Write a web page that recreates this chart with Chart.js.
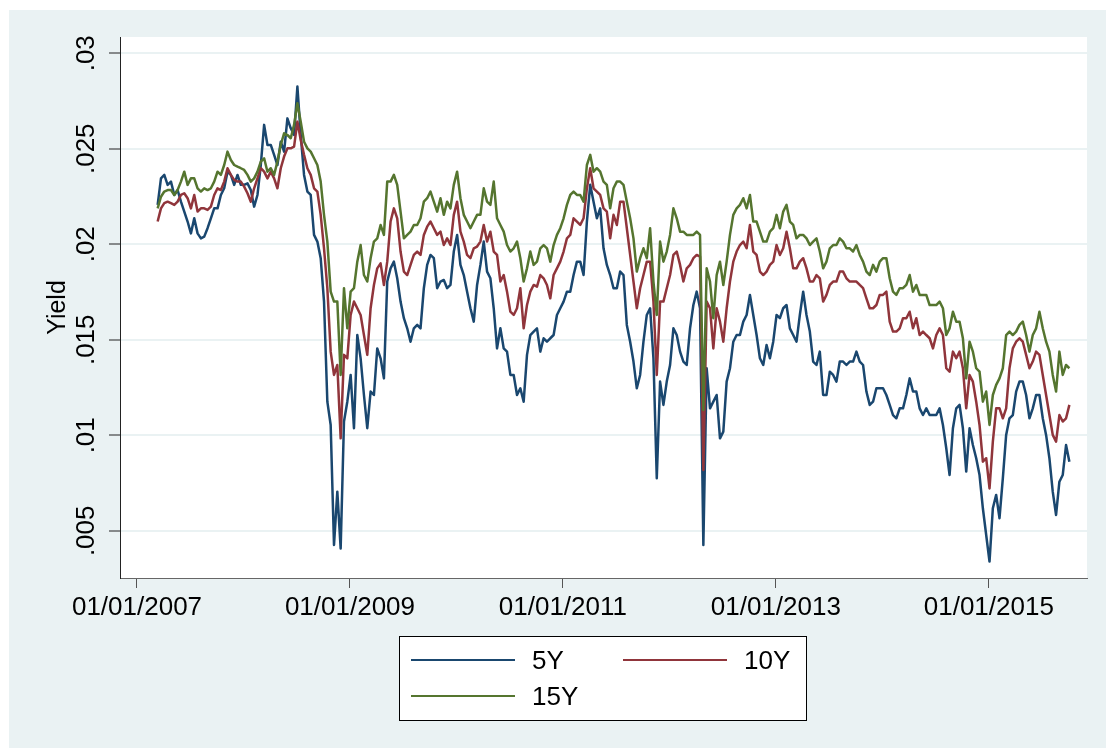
<!DOCTYPE html>
<html>
<head>
<meta charset="utf-8">
<title>Yield</title>
<script src="https://cdn.jsdelivr.net/npm/chart.js@4.4.1/dist/chart.umd.min.js"></script>
<style>
  html, body { margin: 0; padding: 0; background: #fff; }
  #wrap { width: 1106px; height: 750px; }
</style>
</head>
<body>
<div id="wrap"><canvas id="yieldChart" width="1106" height="750"></canvas></div>
<script>
// x in decimal years, one sample every 1/32 year
const firstSample = 2007.194;
const sampleStep = 1 / 32;

const y5 = [
  0.02206,0.02345,0.02363,0.02311,0.02328,0.02258,0.02284,0.02223,0.02171,0.02119,0.02057,0.02136,0.02057,0.02031,0.02040,0.02084,0.02136,0.02188,0.02188,0.02258,0.02293,0.02380,0.02363,0.02311,0.02363,0.02311,0.02311,0.02319,0.02284,0.02197,0.02258,0.02415,0.02625,0.02520,
  0.02520,0.02468,0.02415,0.02537,0.02485,0.02659,0.02607,0.02572,0.02826,0.02572,0.02363,0.02276,0.02258,0.02049,0.02014,0.01927,0.01700,0.01176,0.01054,0.00426,0.00705,0.00408,0.01072,0.01176,0.01316,0.01037,0.01525,0.01403,0.01211,0.01037,0.01229,0.01211,0.01455,0.01403,0.01298,0.01805,
  0.01874,0.01909,0.01822,0.01700,0.01613,0.01560,0.01490,0.01560,0.01578,0.01560,0.01770,0.01892,0.01944,0.01927,0.01770,0.01805,0.01813,0.01770,0.01787,0.01962,0.02049,0.01892,0.01839,0.01752,0.01665,0.01595,0.01787,0.01892,0.02014,0.01857,0.01822,0.01665,0.01455,0.01560,0.01455,0.01438,
  0.01316,0.01316,0.01211,0.01246,0.01176,0.01421,0.01525,0.01543,0.01560,0.01438,0.01508,0.01490,0.01508,0.01525,0.01630,0.01665,0.01700,0.01752,0.01752,0.01839,0.01909,0.01909,0.01839,0.02119,0.02311,0.02223,0.02136,0.02188,0.01979,0.01892,0.01839,0.01770,0.01770,0.01857,0.01839,0.01578,
  0.01490,0.01386,0.01246,0.01316,0.01490,0.01630,0.01665,0.01403,0.00775,0.01281,0.01159,0.01281,0.01368,0.01560,0.01525,0.01438,0.01386,0.01368,0.01560,0.01682,0.01752,0.01665,0.00426,0.01351,0.01141,0.01176,0.01211,0.00984,0.01019,0.01281,0.01351,0.01490,0.01525,0.01525,0.01595,0.01630,
  0.01735,0.01630,0.01525,0.01403,0.01368,0.01473,0.01403,0.01490,0.01630,0.01613,0.01665,0.01682,0.01560,0.01525,0.01490,0.01630,0.01752,0.01630,0.01543,0.01386,0.01368,0.01438,0.01211,0.01211,0.01333,0.01316,0.01281,0.01386,0.01386,0.01368,0.01386,0.01386,0.01438,0.01386,0.01368,0.01229,
  0.01159,0.01176,0.01246,0.01246,0.01246,0.01211,0.01159,0.01106,0.01089,0.01141,0.01141,0.01211,0.01298,0.01229,0.01229,0.01141,0.01106,0.01141,0.01106,0.01106,0.01106,0.01141,0.01054,0.00932,0.00792,0.01037,0.01141,0.01159,0.01037,0.00810,0.01037,0.00949,0.00880,0.00792,0.00618,0.00478,
  0.00339,0.00618,0.00688,0.00566,0.00775,0.01002,0.01089,0.01106,0.01229,0.01281,0.01281,0.01211,0.01089,0.01141,0.01211,0.01211,0.01089,0.01002,0.00880,0.00705,0.00583,0.00757,0.00792,0.00949,0.00862
];
const y10 = [
  0.02119,0.02188,0.02215,0.02223,0.02215,0.02206,0.02223,0.02258,0.02267,0.02241,0.02188,0.02258,0.02171,0.02188,0.02188,0.02180,0.02197,0.02258,0.02293,0.02284,0.02328,0.02398,0.02363,0.02337,0.02328,0.02328,0.02302,0.02267,0.02223,0.02293,0.02345,0.02398,0.02380,0.02345,
  0.02380,0.02345,0.02293,0.02398,0.02459,0.02502,0.02502,0.02511,0.02642,0.02546,0.02468,0.02398,0.02363,0.02293,0.02276,0.02154,0.01979,0.01770,0.01438,0.01316,0.01368,0.00984,0.01421,0.01403,0.01630,0.01700,0.01665,0.01630,0.01525,0.01421,0.01665,0.01787,0.01874,0.01900,0.01787,0.01909,
  0.02119,0.02188,0.02136,0.01962,0.01857,0.01839,0.01892,0.01944,0.01962,0.01944,0.02049,0.02092,0.02119,0.02084,0.02049,0.02066,0.01996,0.02031,0.01996,0.02154,0.02223,0.02066,0.02014,0.01944,0.01927,0.01979,0.01988,0.02014,0.02101,0.02014,0.02066,0.01962,0.01944,0.01805,0.01839,0.01752,
  0.01647,0.01630,0.01665,0.01770,0.01560,0.01682,0.01752,0.01787,0.01778,0.01839,0.01822,0.01787,0.01717,0.01839,0.01874,0.01909,0.01962,0.02031,0.02049,0.02136,0.02119,0.02101,0.02136,0.02293,0.02398,0.02293,0.02276,0.02258,0.02188,0.02171,0.02031,0.02154,0.02101,0.02223,0.02223,0.02084,
  0.01944,0.01805,0.01665,0.01770,0.01839,0.01909,0.01909,0.01700,0.01316,0.01700,0.01700,0.01770,0.01839,0.01944,0.01962,0.01892,0.01805,0.01874,0.01892,0.01927,0.01944,0.01935,0.00819,0.01700,0.01665,0.01455,0.01665,0.01595,0.01490,0.01665,0.01805,0.01909,0.01962,0.01996,0.02014,0.01979,
  0.02101,0.01962,0.01944,0.01857,0.01839,0.01857,0.01892,0.01909,0.01996,0.01944,0.01979,0.02066,0.01979,0.01874,0.01874,0.01909,0.01927,0.01874,0.01805,0.01805,0.01839,0.01822,0.01700,0.01735,0.01787,0.01805,0.01805,0.01857,0.01857,0.01822,0.01805,0.01805,0.01805,0.01787,0.01770,0.01717,
  0.01665,0.01665,0.01682,0.01735,0.01735,0.01752,0.01595,0.01543,0.01543,0.01560,0.01613,0.01613,0.01647,0.01560,0.01613,0.01525,0.01543,0.01525,0.01508,0.01455,0.01525,0.01560,0.01525,0.01351,0.01333,0.01438,0.01403,0.01438,0.01351,0.01141,0.01316,0.01281,0.01176,0.01054,0.00862,0.00880,
  0.00722,0.00967,0.01141,0.01141,0.01089,0.01141,0.01351,0.01455,0.01490,0.01508,0.01490,0.01421,0.01351,0.01386,0.01438,0.01421,0.01316,0.01211,0.01106,0.01002,0.00967,0.01106,0.01072,0.01089,0.01159
];
const y15 = [
  0.02188,0.02249,0.02276,0.02284,0.02284,0.02258,0.02284,0.02328,0.02380,0.02311,0.02345,0.02345,0.02293,0.02276,0.02293,0.02284,0.02293,0.02328,0.02380,0.02363,0.02415,0.02485,0.02441,0.02415,0.02406,0.02398,0.02389,0.02363,0.02328,0.02345,0.02380,0.02433,0.02450,0.02380,
  0.02398,0.02363,0.02433,0.02520,0.02581,0.02572,0.02555,0.02625,0.02738,0.02642,0.02537,0.02502,0.02485,0.02450,0.02415,0.02328,0.02154,0.02014,0.01752,0.01700,0.01700,0.01316,0.01770,0.01560,0.01752,0.01770,0.01909,0.01996,0.01839,0.01805,0.01927,0.02014,0.02031,0.02101,0.02049,0.02328,
  0.02328,0.02363,0.02311,0.02171,0.02031,0.02049,0.02066,0.02101,0.02101,0.02136,0.02223,0.02241,0.02276,0.02223,0.02171,0.02241,0.02154,0.02223,0.02188,0.02311,0.02380,0.02241,0.02154,0.02119,0.02084,0.02119,0.02154,0.02154,0.02293,0.02223,0.02206,0.02328,0.02136,0.02101,0.02066,0.01996,
  0.01962,0.01979,0.02014,0.01927,0.01805,0.01874,0.01962,0.01892,0.01909,0.01979,0.01996,0.01979,0.01909,0.01996,0.02049,0.02084,0.02136,0.02206,0.02258,0.02276,0.02258,0.02258,0.02223,0.02415,0.02468,0.02380,0.02398,0.02380,0.02328,0.02311,0.02188,0.02293,0.02328,0.02328,0.02311,0.02223,
  0.02136,0.02031,0.01857,0.01927,0.01979,0.01927,0.02084,0.01805,0.01630,0.02014,0.01909,0.01962,0.02049,0.02188,0.02136,0.02066,0.02066,0.02049,0.02049,0.02049,0.02066,0.02049,0.01133,0.01874,0.01805,0.01613,0.01839,0.01909,0.01787,0.01909,0.02049,0.02154,0.02188,0.02206,0.02241,0.02188,
  0.02258,0.02119,0.02119,0.02066,0.02014,0.02014,0.02066,0.02084,0.02154,0.02084,0.02171,0.02206,0.02119,0.02101,0.02031,0.02049,0.02049,0.02031,0.01996,0.02014,0.02031,0.01962,0.01874,0.01909,0.01979,0.01996,0.01996,0.02031,0.02014,0.01979,0.01979,0.01962,0.01996,0.01944,0.01909,0.01857,
  0.01839,0.01892,0.01857,0.01909,0.01927,0.01927,0.01822,0.01752,0.01735,0.01770,0.01770,0.01787,0.01839,0.01752,0.01787,0.01735,0.01735,0.01735,0.01682,0.01682,0.01682,0.01700,0.01665,0.01525,0.01560,0.01647,0.01595,0.01595,0.01508,0.01298,0.01490,0.01438,0.01351,0.01333,0.01176,0.01229,
  0.01054,0.01211,0.01264,0.01298,0.01351,0.01525,0.01543,0.01525,0.01543,0.01578,0.01595,0.01525,0.01438,0.01525,0.01560,0.01647,0.01560,0.01490,0.01438,0.01316,0.01229,0.01438,0.01316,0.01368,0.01351
];

const seriesNames = ['5Y', '10Y', '15Y'];
const xTickYears = [2007, 2009, 2011, 2013, 2015];
const xTickLabels = ['01/01/2007', '01/01/2009', '01/01/2011', '01/01/2013', '01/01/2015'];
const yTicks = [0.005, 0.01, 0.015, 0.02, 0.025, 0.03];
const yTickLabels = ['.005', '.01', '.015', '.02', '.025', '.03'];

const FONT = '"Liberation Sans", Arial, Helvetica, sans-serif';

const toPoints = arr => arr.map((v, i) => ({ x: firstSample + i * sampleStep, y: v }));

// stata-ish background: light frame, white plot region
const bgPlugin = {
  id: 'stataBg',
  beforeDraw(chart) {
    const { ctx, chartArea: a } = chart;
    ctx.save();
    ctx.fillStyle = '#ffffff';
    ctx.fillRect(0, 0, chart.width, chart.height);
    ctx.fillStyle = '#eaf2f3';
    ctx.fillRect(9, 10, chart.width - 9, 738);
    ctx.fillStyle = '#ffffff';
    ctx.fillRect(a.left, a.top, a.right - a.left, a.bottom - a.top);
    ctx.restore();
  }
};

// boxed legend, two columns
const legendPlugin = {
  id: 'stataLegend',
  afterDraw(chart) {
    const ctx = chart.ctx;
    const slots = [[411, 660], [623, 660], [411, 696]];
    ctx.save();
    ctx.fillStyle = '#ffffff';
    ctx.fillRect(399, 636, 407, 85);
    ctx.strokeStyle = '#000000';
    ctx.lineWidth = 1;
    ctx.strokeRect(399.5, 636.5, 407, 84);
    chart.data.datasets.forEach((ds, i) => {
      const [lx, ly] = slots[i];
      ctx.strokeStyle = ds.borderColor;
      ctx.lineWidth = 2;
      ctx.beginPath();
      ctx.moveTo(lx, ly);
      ctx.lineTo(lx + 104, ly);
      ctx.stroke();
      ctx.fillStyle = '#000000';
      ctx.font = '26px ' + FONT;
      ctx.textAlign = 'left';
      ctx.textBaseline = 'middle';
      ctx.fillText(ds.label, lx + 121, ly + 2);
    });
    ctx.restore();
  }
};

const chart = new Chart(document.getElementById('yieldChart'), {
  type: 'line',
  data: {
    datasets: [
      { label: seriesNames[0], data: toPoints(y5), borderColor: '#1a476f', order: 3 },
      { label: seriesNames[1], data: toPoints(y10), borderColor: '#90353b', order: 2 },
      { label: seriesNames[2], data: toPoints(y15), borderColor: '#55752f', order: 1 },
    ],
  },
  options: {
    responsive: false,
    animation: false,
    devicePixelRatio: 1,
    layout: { padding: { left: 0, top: 37, right: 19, bottom: 0 } },
    elements: {
      line: { borderWidth: 2.5, tension: 0, fill: false, borderJoinStyle: 'round' },
      point: { radius: 0, hoverRadius: 0 },
    },
    plugins: {
      legend: { display: false },
      tooltip: { enabled: false },
    },
    scales: {
      x: {
        type: 'linear',
        min: 2006.8405,
        max: 2015.922,
        afterBuildTicks: s => { s.ticks = xTickYears.map(v => ({ value: v })); },
        afterFit: s => { s.height = 172; },
        ticks: {
          callback: (v, i) => xTickLabels[i],
          color: '#000',
          font: { family: FONT, size: 26 },
          padding: 4,
          maxRotation: 0,
          autoSkip: false,
        },
        grid: { drawOnChartArea: false, tickLength: 10, tickColor: '#555', tickWidth: 1 },
        border: { color: '#666', width: 1 },
      },
      y: {
        min: 0.00253,
        max: 0.03085,
        afterBuildTicks: s => { s.ticks = yTicks.map(v => ({ value: v })); },
        afterFit: s => { s.width = 120; },
        ticks: {
          callback: (v, i) => yTickLabels[i],
          color: '#000',
          font: { family: FONT, size: 26 },
          minRotation: 90,
          maxRotation: 90,
          crossAlign: 'center',
          padding: -3,
        },
        grid: { color: '#eaf2f3', lineWidth: 2, tickLength: 11, tickColor: '#222', tickWidth: 1 },
        border: { color: '#222', width: 1 },
        title: {
          display: true,
          text: 'Yield',
          color: '#000',
          font: { family: FONT, size: 25 },
          padding: { top: 43, bottom: 0 },
        },
      },
    },
  },
  plugins: [bgPlugin, legendPlugin],
});
</script>
</body>
</html>
